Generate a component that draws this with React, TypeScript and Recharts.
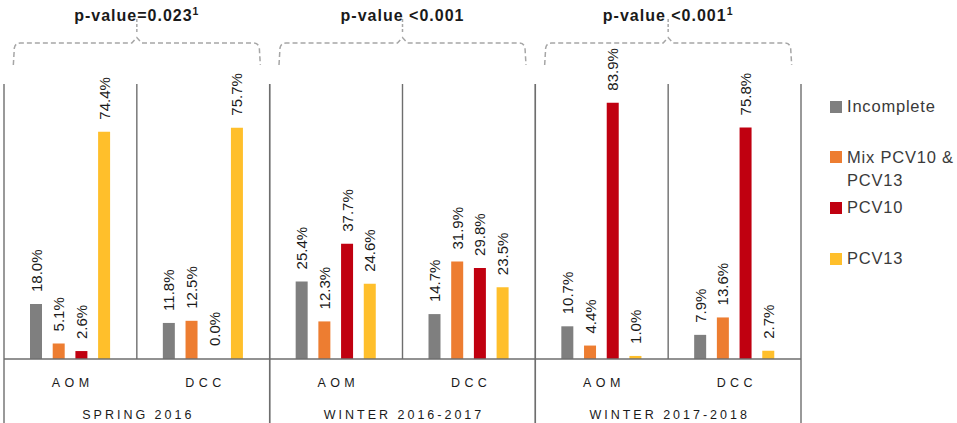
import React from 'react';
import { BarChart, Bar, XAxis, YAxis, LabelList, Legend, Rectangle } from 'recharts';

// ---------- data ----------
const categories = ['AOM', 'DCC', 'AOM', 'DCC', 'AOM', 'DCC'];
const seasons = [
  'SPRING 2016',
  'SPRING 2016',
  'WINTER 2016-2017',
  'WINTER 2016-2017',
  'WINTER 2017-2018',
  'WINTER 2017-2018',
];
const incomplete = [18.0, 11.8, 25.4, 14.7, 10.7, 7.9];
const mixPcv = [5.1, 12.5, 12.3, 31.9, 4.4, 13.6];
const pcv10 = [2.6, 0.0, 37.7, 29.8, 83.9, 75.8];
const pcv13 = [74.4, 75.7, 24.6, 23.5, 1.0, 2.7];
const pValueMain = ['p-value=0.023', 'p-value <0.001', 'p-value <0.001'];
const pValueSup = ['1', '', '1'];

const seriesNames = ['Incomplete', 'Mix PCV10 & PCV13', 'PCV10', 'PCV13'];
const seriesColors = ['#7f7f7f', '#ed7d31', '#c00010', '#ffbf2b'];

const data = categories.map((cat, i) => ({
  cat,
  season: seasons[i],
  incomplete: incomplete[i],
  mix: mixPcv[i],
  pcv10: pcv10[i],
  pcv13: pcv13[i],
}));

// ---------- layout ----------
const W = 957;
const H = 423;
const MARGIN = { top: 84, left: 4, right: 156, bottom: 0 };
const PLOT_W = W - MARGIN.left - MARGIN.right;
const PLOT_TOP = MARGIN.top;
const AXIS1_H = 30;
const AXIS2_H = 34;
const BASELINE = H - AXIS1_H - AXIS2_H;
const SEASON_COUNT = Array.from(new Set(seasons)).length;
const SEASON_HALF = PLOT_W / SEASON_COUNT / 2;
const FONT = '"Liberation Sans", Arial, sans-serif';
const LINE_COLOR = '#6e6e6e';
const BRACKET_COLOR = '#a6a6a6';

const ValueLabel = (props: any) => {
  const { x, y, width, value } = props;
  if (value === undefined || value === null) return null;
  const cx = Number(x) + Number(width) / 2;
  const top = Number(y);
  return (
    <text
      transform={`translate(${cx},${top - 12}) rotate(-90)`}
      x={0}
      y={5.5}
      textAnchor="start"
      fontFamily={FONT}
      fontSize={15}
      fill="#1a1a1a"
    >
      {`${Number(value).toFixed(1)}%`}
    </text>
  );
};

const makeShape = (key: string) => (props: any) => {
  const v = props?.payload?.[key];
  if (v === 0) return <g />;
  return <Rectangle {...props} />;
};

const CatTick = (props: any) => {
  const { x, payload } = props;
  return (
    <text
      x={x + 2.2}
      y={386.5}
      textAnchor="middle"
      fontFamily={FONT}
      fontSize={12.5}
      letterSpacing={4.4}
      fill="#1a1a1a"
    >
      {payload.value}
    </text>
  );
};

const SeasonTick = (props: any) => {
  const { x, payload, index } = props;
  const c = Number(x);
  const h = 123.5;
  const yH = 43;
  const yTip = 65;
  const bracket = `M ${c - h},${yTip} L ${c - h + 1},${yH + 5} Q ${c - h + 2},${yH} ${c - h + 7},${yH} L ${c - 5},${yH} L ${c},${yH - 5.5} L ${c + 5},${yH} L ${c + h - 7},${yH} Q ${c + h - 2},${yH} ${c + h - 1},${yH + 5} L ${c + h},${yTip}`;
  const main = pValueMain[index] ?? '';
  const sup = pValueSup[index] ?? '';
  return (
    <g>
      {/* separators */}
      <line x1={c - SEASON_HALF} x2={c - SEASON_HALF} y1={PLOT_TOP} y2={H} stroke={LINE_COLOR} strokeWidth={1.4} />
      <line x1={c + SEASON_HALF} x2={c + SEASON_HALF} y1={PLOT_TOP} y2={H} stroke={LINE_COLOR} strokeWidth={1.4} />
      <line x1={c} x2={c} y1={PLOT_TOP} y2={BASELINE} stroke={LINE_COLOR} strokeWidth={1.4} />
      {/* season label */}
      <text
        x={c + 1.5}
        y={418.5}
        textAnchor="middle"
        fontFamily={FONT}
        fontSize={12.5}
        letterSpacing={3}
        fill="#1a1a1a"
      >
        {payload.value}
      </text>
      {/* bracket */}
      <path d={bracket} fill="none" stroke={BRACKET_COLOR} strokeWidth={1.5} strokeDasharray="5 3" />
      <line x1={c} x2={c} y1={19} y2={34} stroke={BRACKET_COLOR} strokeWidth={1.5} strokeDasharray="3 2" />
      <text
        x={c}
        y={21}
        textAnchor="middle"
        fontFamily={FONT}
        fontSize={16}
        fontWeight="bold"
        letterSpacing={1}
        fill="#1a1a1a"
      >
        {main}
        {sup ? (
          <tspan fontSize={10.5} dy={-6}>
            {sup}
          </tspan>
        ) : null}
      </text>
    </g>
  );
};

const LegendContent = (props: any) => {
  const payload = props.payload || [];
  return (
    <div
      style={{
        position: 'relative',
        width: 127,
        height: 190,
        fontFamily: FONT,
        fontSize: 16.5,
        letterSpacing: 0.8,
        color: '#3a3a3a',
      }}
    >
      {payload.map((e: any, i: number) => {
        const lines = String(e.value).split(/(?<=&)\s+/);
        return (
          <div
            key={i}
            style={{ position: 'absolute', left: 0, top: i * 50.7, display: 'flex', alignItems: 'flex-start' }}
          >
            <div style={{ width: 12, height: 12, background: e.color, marginTop: 5.7, marginRight: 5, flex: 'none' }} />
            <div style={{ lineHeight: '23.5px', whiteSpace: 'nowrap' }}>
              {lines.map((l: string, j: number) => (
                <div key={j}>{l}</div>
              ))}
            </div>
          </div>
        );
      })}
    </div>
  );
};

export default function App() {
  const keys = ['incomplete', 'mix', 'pcv10', 'pcv13'];
  return (
    <div style={{ position: 'absolute', left: 0, top: 0, width: W, height: H, background: '#fff' }}>
      <BarChart
        width={W}
        height={H}
        data={data}
        margin={MARGIN}
        barSize={12}
        barGap={10.7}
        barCategoryGap="20%"
      >
        <YAxis hide domain={[0, 90]} type="number" allowDataOverflow />
        <XAxis
          dataKey="cat"
          height={AXIS1_H}
          interval={0}
          tickLine={false}
          axisLine={{ stroke: LINE_COLOR, strokeWidth: 1.4 }}
          tick={<CatTick />}
        />
        <XAxis
          xAxisId="season"
          dataKey="season"
          allowDuplicatedCategory={false}
          height={AXIS2_H}
          interval={0}
          tickLine={false}
          axisLine={false}
          tick={<SeasonTick />}
        />
        <Legend
          layout="vertical"
          align="center"
          verticalAlign="middle"
          wrapperStyle={{ left: 830, top: 95, width: 127, height: 190 }}
          content={<LegendContent />}
        />
        {keys.map((k, i) => (
          <Bar
            key={k}
            dataKey={k}
            name={seriesNames[i]}
            fill={seriesColors[i]}
            minPointSize={1}
            shape={makeShape(k)}
            isAnimationActive={false}
          >
            <LabelList dataKey={k} content={<ValueLabel />} />
          </Bar>
        ))}
      </BarChart>
    </div>
  );
}
